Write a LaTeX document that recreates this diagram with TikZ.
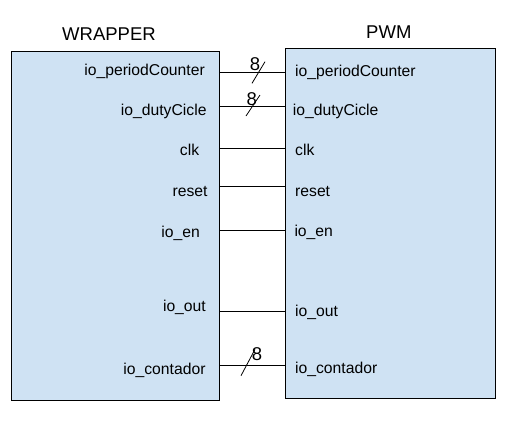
\documentclass[tikz,border=0pt]{standalone}
\usepackage{fontspec}
\setmainfont{Liberation Sans}
\definecolor{boxfill}{HTML}{CFE2F3}
\begin{document}
\begin{tikzpicture}[x=1pt,y=-1pt]
\tikzset{
  blk/.style={draw=black, fill=boxfill, line width=0.9pt, inner sep=0pt},
  lport/.style={anchor=base east, inner sep=0pt, font=\fontsize{15.7}{18}\selectfont},
  rport/.style={anchor=base west, inner sep=0pt, font=\fontsize{15.7}{18}\selectfont},
  ttl/.style={anchor=base, inner sep=0pt, font=\fontsize{18.5}{22}\selectfont},
  bw/.style={anchor=base, inner sep=0pt, font=\fontsize{18.5}{22}\selectfont},
  wire/.style={draw=black, line width=0.9pt},
  slash/.style={draw=black, line width=0.8pt}
}
\useasboundingbox[fill=white] (0,0) rectangle (508,437);
% blocks
\node[blk, minimum width=208pt, minimum height=348.3pt] (wrap) at (115,225.85) {};
\node[blk, minimum width=210pt, minimum height=349.7pt] (pwm) at (390.7,223.15) {};
% titles
\node[ttl] (twrap) at (109,40.7) {WRAPPER};
\node[ttl] (tpwm) at (388.8,38.3) {PWM};
% left labels
\node[lport] (lpc) at (205,75.7) {io\_periodCounter};
\node[lport] (ldc) at (206.7,115) {io\_dutyCicle};
\node[lport] (lclk) at (199.3,155) {clk};
\node[lport] (lrst) at (207.7,196.7) {reset};
\node[lport] (len) at (200,237.7) {io\_en};
\node[lport] (lout) at (206,311) {io\_out};
\node[lport] (lcnt) at (205.7,374.3) {io\_contador};
% right labels
\node[rport] (rpc) at (295,76) {io\_periodCounter};
\node[rport] (rdc) at (292.7,115) {io\_dutyCicle};
\node[rport] (rclk) at (295,155) {clk};
\node[rport] (rrst) at (295,196) {reset};
\node[rport] (ren) at (294.3,236.5) {io\_en};
\node[rport] (rout) at (295,316.7) {io\_out};
\node[rport] (rcnt) at (295,373.3) {io\_contador};
% port coordinates
\foreach \n/\y in {pc/72.4, dc/106.5, clk/148.3, rst/186.7, en/230.3, out/311.3, cnt/365.3}{
  \coordinate (wa\n) at (wrap.east |- 0,\y);
  \coordinate (pa\n) at (pwm.west |- 0,\y);
}
% wires
\foreach \n in {pc,dc,clk,rst,en,out,cnt}{
  \draw[wire] (wa\n) -- (pa\n);
}
% bus width marks
\coordinate (s1a) at (252,83.3); \coordinate (s1b) at (265,61.7);
\coordinate (s2a) at (246,116); \coordinate (s2b) at (260,95);
\coordinate (s3a) at (241,375.7); \coordinate (s3b) at (255,349.3);
\draw[slash] (s1a) -- (s1b);
\draw[slash] (s2a) -- (s2b);
\draw[slash] (s3a) -- (s3b);
\node[bw] (b1) at (255,70) {8};
\node[bw] (b2) at (251.7,105) {8};
\node[bw] (b3) at (257,360.7) {8};
\end{tikzpicture}
\end{document}
